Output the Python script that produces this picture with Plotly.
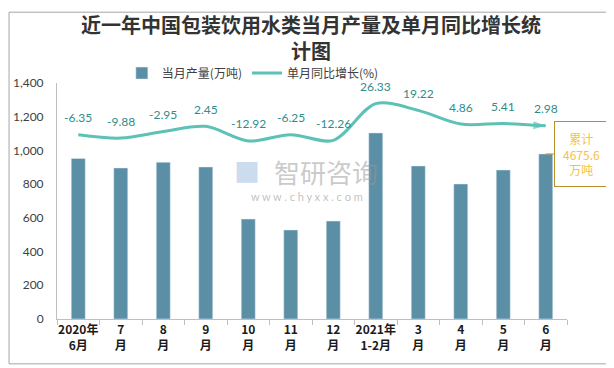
import plotly.graph_objects as go

categories = ["2020年<br>6月", "7<br>月", "8<br>月", "9<br>月", "10<br>月", "11<br>月",
              "12<br>月", "2021年<br>1-2月", "3<br>月", "4<br>月", "5<br>月", "6<br>月"]
output_wt = [952, 896, 930, 902, 593, 528, 581, 1104, 908, 801, 884, 979]
yoy_growth = [-6.35, -9.88, -2.95, 2.45, -12.92, -6.25, -12.26, 26.33, 19.22, 4.86, 5.41, 2.98]
y_ticks = [0, 200, 400, 600, 800, 1000, 1200, 1400]
cumulative_text = "累计<br>4675.6<br>万吨"

BAR = "#5B8FA6"
LINE = "#5CC2B6"
LABEL = "#2E8C8C"
FONT = "Lato, Noto Sans CJK SC, sans-serif"
CJK = "Noto Sans CJK SC, sans-serif"

fig = go.Figure()
fig.add_trace(go.Bar(x=categories, y=output_wt, marker_color=BAR, width=0.33,
                     name="当月产量(万吨)", showlegend=False))

n = len(yoy_growth)
sym = ["circle"] * (n - 1) + ["arrow"]
size = [11] + [0] * (n - 2) + [13]
col = ["#F5B324"] + [LINE] * (n - 1)
fig.add_trace(go.Scatter(x=categories, y=yoy_growth, yaxis="y2", mode="lines+markers",
                         line=dict(color=LINE, width=3, shape="spline", smoothing=0.9),
                         marker=dict(symbol=sym, size=size, color=col, angleref="previous",
                                     line=dict(width=0)),
                         name="单月同比增长(%)", showlegend=False))

# legend proxies
fig.add_trace(go.Bar(x=[None], y=[None], marker_color=BAR, name="当月产量(万吨)"))
fig.add_trace(go.Scatter(x=[None], y=[None], mode="lines", line=dict(color=LINE, width=3),
                         name="单月同比增长(%)"))

for c, v in zip(categories, yoy_growth):
    fig.add_annotation(x=c, y=v, xref="x", yref="y2", text=f"{v:.2f}", showarrow=False,
                       yshift=17, font=dict(family=FONT, size=12, color=LABEL))

# cumulative callout
fig.add_annotation(x=categories[-1], y=output_wt[-1], xref="x", yref="y",
                   text=cumulative_text, showarrow=True, arrowhead=0, arrowwidth=1,
                   arrowcolor="#B8902A", ax=8, ay=0, xanchor="left",
                   font=dict(family=CJK, size=12, color="#F5C242"),
                   bordercolor="#B8902A", borderwidth=1, borderpad=8, bgcolor="white",
                   align="center")

# watermark
fig.add_annotation(xref="paper", yref="paper", x=0.527, y=0.623, text="智研咨询",
                   showarrow=False, font=dict(family=CJK, size=26, color="rgba(150,150,150,0.5)"))
fig.add_annotation(xref="paper", yref="paper", x=0.49, y=0.517, text="w w w . c h y x x . c o m",
                   showarrow=False, font=dict(family=FONT, size=11, color="rgba(150,150,150,0.6)"))
fig.add_annotation(xref="paper", yref="paper", x=0.373, y=0.623, text="■",
                   showarrow=False, font=dict(family=FONT, size=26, color="rgba(160,190,225,0.55)"))

# outer border
fig.add_shape(type="rect", xref="paper", yref="paper", x0=-0.094, x1=1.084, y0=-0.19, y1=1.30,
              line=dict(color="#A6A6A6", width=1), fillcolor="rgba(0,0,0,0)", layer="below")

fig.update_layout(
    width=606, height=360,
    margin=dict(l=49, r=47, t=75, b=49, autoexpand=False),
    paper_bgcolor="white", plot_bgcolor="white",
    title=dict(text="近一年中国包装饮用水类当月产量及单月同比增长统<br>计图", x=0.5, xref="container",
               y=0.93, yanchor="middle",
               font=dict(family=CJK, size=20, color="#333333", weight="bold")),
    font=dict(family=FONT, color="#595959"),
    legend=dict(orientation="h", x=0.384, y=1.042, xanchor="center", yanchor="middle",
                font=dict(family=CJK, size=12, color="#404040"), bgcolor="rgba(0,0,0,0)"),
    xaxis=dict(type="category", range=[-0.5, len(categories) - 0.5], showline=True,
               linecolor="#BFBFBF", ticks="outside",
               tickson="boundaries", ticklen=5, tickcolor="#BFBFBF", showgrid=False,
               tickangle=0, automargin=False,
               tickfont=dict(family=CJK, size=12, color="#1a1a1a", weight="bold")),
    yaxis=dict(range=[0, 1400], tickvals=y_ticks, tickformat=",", showline=True,
               linecolor="#BFBFBF", showgrid=False, ticks="", zeroline=False, automargin=False,
               ticklabelstandoff=10,
               tickfont=dict(family=FONT, size=12, color="#404040")),
    yaxis2=dict(overlaying="y", side="right", range=[-200, 48], visible=False),
    bargap=0.67,
)

fig.write_html("out.html")
